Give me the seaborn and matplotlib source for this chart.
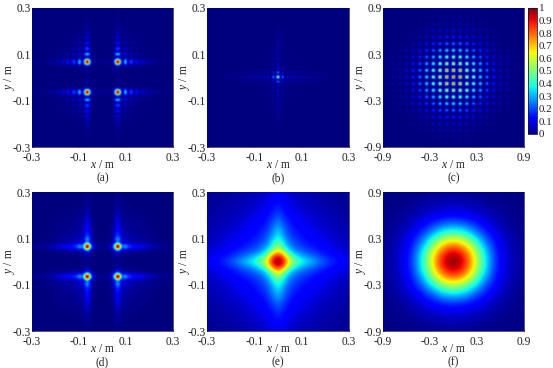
import numpy as np
import matplotlib
matplotlib.use('Agg')
import matplotlib.pyplot as plt
import seaborn as sns

# half profiles, from the centre to the edge
perfil_a = [.01, .01, .01, .015, .02, .02, .015, .01, .02, .06, .22, .55, .88, 1.0, .88, .55, .22, .06, .12, .32,
            .34, .14, .04, .10, .20, .18, .08, .03, .08, .13, .10, .04, .03, .08, .08, .04, .02, .05, .05, .03,
            .015, .03, .03, .015, .01, .02, .02, .01, .005, .01, .01, .005, .005, .005, .005, .005, .005, .005, .005, .005, .005]
perfil_b = [.85, .45, .06, .12, .38, .14, .03, .06, .12, .06, .03, .08, .09, .05, .04, .07, .07, .04, .04, .06,
            .06, .04, .04, .05, .05, .04, .04, .04, .04, .035, .035, .03, .03, .025, .025, .025, .025, .02, .02, .02,
            .015, .015, .01, .01, .01, .01, .005, .005, .005, .005, .005, 0, 0, 0, 0, 0, 0, 0, 0, 0, 0]
perfil_c = [1.0, .70, .14, .01, .14, .66, .95, .66, .13, .01, .12, .56, .80, .55, .11, .01, .09, .43, .62, .42,
            .08, .005, .06, .31, .45, .30, .05, .005, .04, .20, .30, .20, .03, .005, .02, .12, .18, .12, .02, 0,
            .01, .07, .10, .07, .01, 0, .01, .04, .06, .04, .005, 0, .003, .02, .03, .02, 0, 0, 0, .01, .015, .01, 0, 0]
perfil_d = [.015, .015, .015, .02, .025, .03, .04, .06, .11, .20, .38, .65, .92, 1.0, .92, .65, .38, .25, .24, .27,
            .26, .22, .19, .17, .16, .15, .14, .13, .125, .12, .115, .11, .105, .10, .095, .09, .085, .08, .07, .065,
            .06, .055, .05, .045, .04, .035, .03, .03, .025, .025, .02, .02, .02, .015, .015, .015, .01, .01, .01, .01, .01]

# quadrant tables, x grows along the row, y down the column
quadrante_e = [
    [1.0, .93, .72, .55, .46, .40, .35, .31, .27, .23, .20, .17, .15, .13, .115, .10],
    [.93, .85, .62, .46, .38, .32, .28, .25, .22, .19, .165, .145, .13, .115, .10, .09],
    [.72, .62, .44, .33, .27, .24, .21, .19, .17, .15, .135, .12, .105, .095, .085, .075],
    [.55, .46, .33, .26, .22, .19, .17, .155, .14, .125, .115, .10, .09, .08, .07, .065],
    [.46, .38, .27, .22, .185, .165, .15, .135, .12, .11, .10, .09, .08, .07, .06, .055],
    [.40, .32, .24, .19, .165, .145, .13, .12, .11, .10, .09, .08, .07, .06, .055, .05],
    [.35, .28, .21, .17, .15, .13, .12, .11, .10, .09, .08, .07, .06, .055, .05, .045],
    [.31, .25, .19, .155, .135, .12, .11, .10, .09, .08, .07, .06, .055, .05, .045, .04],
    [.27, .22, .17, .14, .12, .11, .10, .09, .08, .07, .06, .055, .05, .045, .04, .035],
    [.23, .19, .15, .125, .11, .10, .09, .08, .07, .06, .055, .05, .045, .04, .035, .03],
    [.20, .165, .135, .115, .10, .09, .08, .07, .06, .055, .05, .045, .04, .035, .03, .03],
    [.17, .145, .12, .10, .09, .08, .07, .06, .055, .05, .045, .04, .035, .03, .03, .025],
    [.15, .13, .105, .09, .08, .07, .06, .055, .05, .045, .04, .035, .03, .03, .025, .025],
    [.13, .115, .095, .08, .07, .06, .055, .05, .045, .04, .035, .03, .03, .025, .025, .02],
    [.115, .10, .085, .07, .06, .055, .05, .045, .04, .035, .03, .03, .025, .025, .02, .02],
    [.10, .09, .075, .065, .055, .05, .045, .04, .035, .03, .03, .025, .025, .02, .02, .02],
]
quadrante_f = [
    [1.0, .95, .80, .58, .38, .22, .12, .07, .04, .02],
    [.95, .90, .76, .55, .37, .21, .115, .065, .04, .02],
    [.80, .76, .62, .46, .30, .18, .10, .06, .03, .015],
    [.58, .55, .46, .35, .22, .15, .085, .05, .03, .015],
    [.38, .37, .30, .22, .16, .10, .065, .04, .02, .01],
    [.22, .21, .18, .145, .10, .07, .045, .025, .015, .01],
    [.12, .115, .10, .085, .065, .045, .03, .02, .01, .01],
    [.07, .065, .06, .05, .04, .025, .02, .01, .01, .005],
    [.04, .04, .03, .03, .02, .015, .01, .01, .005, .005],
    [.02, .02, .02, .015, .01, .01, .01, .005, .005, .005],
]

rotulos_03 = ['-0.3', '-0.1', '0.1', '0.3']
valores_03 = [-0.3, -0.1, 0.1, 0.3]
rotulos_09 = ['-0.9', '-0.3', '0.3', '0.9']
valores_09 = [-0.9, -0.3, 0.3, 0.9]
rotulos_cbar = ['0', '0.1', '0.2', '0.3', '0.4', '0.5', '0.6', '0.7', '0.8', '0.9', '1']
valores_cbar = [0, .1, .2, .3, .4, .5, .6, .7, .8, .9, 1]
legendas = ['(a)', '(b)', '(c)', '(d)', '(e)', '(f)']

W, H = 553, 368
TAM = 8.3


def espelha(q):
    q = np.array(q)
    q = np.vstack([q[::-1], q[1:]])
    return np.hstack([q[:, ::-1], q[:, 1:]])


def separavel(p):
    p = np.array(p)
    return np.outer(np.r_[p[::-1], p[1:]], np.r_[p[::-1], p[1:]])


def eixo(esq, dir, topo, base):
    return fig.add_axes([esq / W, 1 - base / H, (dir - esq) / W, (base - topo) / H])


sns.set_theme(style='white')
plt.rcParams['font.family'] = ['Liberation Serif', 'DejaVu Serif']
plt.rcParams['mathtext.fontset'] = 'custom'
plt.rcParams['mathtext.it'] = 'Liberation Serif:italic'
plt.rcParams['mathtext.rm'] = 'Liberation Serif'

fig = plt.figure(figsize=(W / 100, H / 100), dpi=100)

grades = [separavel(perfil_a), separavel(perfil_b), separavel(perfil_c),
          separavel(perfil_d), espelha(quadrante_e), espelha(quadrante_f)]
colunas = [(32, 173), (207, 349), (383, 524)]
linhas = [(8, 147), (192, 331)]
cax = eixo(528, 537, 8, 134)

for k, grade in enumerate(grades):
    c = k % 3
    l = k // 3
    ax = eixo(colunas[c][0], colunas[c][1], linhas[l][0], linhas[l][1])
    n = grade.shape[0]
    if k == 2:
        sns.heatmap(grade, ax=ax, cmap='jet', vmin=0, vmax=1, cbar=True, cbar_ax=cax,
                    cbar_kws={'ticks': valores_cbar}, xticklabels=False, yticklabels=False)
    else:
        sns.heatmap(grade, ax=ax, cmap='jet', vmin=0, vmax=1, cbar=False,
                    xticklabels=False, yticklabels=False)
    # a mesma grade suavizada por cima, o original e uma imagem continua
    ax.imshow(grade, cmap='jet', vmin=0, vmax=1, extent=(0, n, n, 0),
              interpolation='bicubic', aspect='auto', zorder=3)
    ax.set_xlim(0.5, n - 0.5)
    ax.set_ylim(n - 0.5, 0.5)

    vals = valores_09 if c == 2 else valores_03
    rots = rotulos_09 if c == 2 else rotulos_03
    vmax = vals[-1]
    ax.set_xticks([(v + vmax) / (2 * vmax) * (n - 1) + 0.5 for v in vals])
    ax.set_xticklabels(rots, fontsize=TAM, color='#222222', rotation=0)
    ax.set_yticks([(vmax - v) / (2 * vmax) * (n - 1) + 0.5 for v in vals])
    ax.set_yticklabels(rots, fontsize=TAM, color='#222222', rotation=0)
    ax.tick_params(direction='in', length=1.5, width=0.4, color='#222255', bottom=True, left=True)
    ax.tick_params(axis='x', pad=3.5)
    ax.tick_params(axis='y', pad=1)
    for s in ax.spines.values():
        s.set_visible(True)
        s.set_linewidth(0.5)
        s.set_color('#101040')

    centro = (colunas[c][0] + colunas[c][1]) / 2
    base = linhas[l][1]
    fig.text(centro / W, 1 - (base + 18.5) / H, r'$\mathit{x}$ / m', ha='center', va='center', fontsize=TAM, color='#222222')
    fig.text(centro / W, 1 - (base + 31) / H, legendas[k], ha='center', va='center', fontsize=TAM, color='#222222')
    fig.text((colunas[c][0] - 22.5) / W, 1 - (linhas[l][0] + linhas[l][1]) / 2 / H, r'$\mathit{y}$ / m',
             ha='center', va='center', rotation=90, fontsize=TAM, color='#222222')

cax.set_yticks(valores_cbar)
cax.set_yticklabels(rotulos_cbar, fontsize=7.9, color='#222222')
cax.tick_params(length=0, pad=1.5, right=True, labelright=True)
for s in cax.spines.values():
    s.set_visible(True)
    s.set_linewidth(0.4)
    s.set_color('#101040')

fig.savefig('out.png', dpi=100)
